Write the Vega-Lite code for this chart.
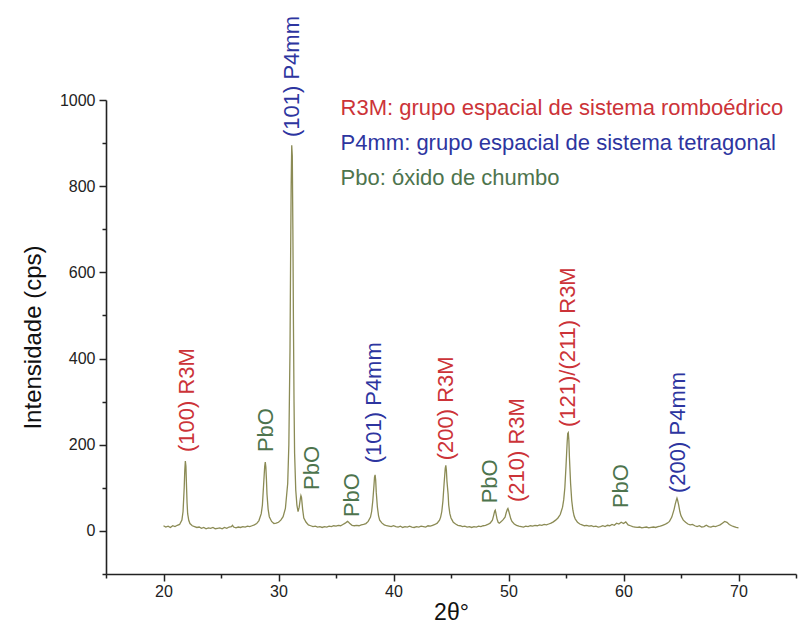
{
  "$schema": "https://vega.github.io/schema/vega-lite/v6.json",
  "width": 690,
  "height": 474,
  "autosize": {"type": "none"},
  "padding": {"left": 106, "top": 100, "right": 4, "bottom": 53},
  "background": "white",
  "view": {"stroke": null},
  "config": {"font": "Liberation Sans"},
  "datasets": {
    "trace": [
      {"t":20.0,"i":12},{"t":20.2,"i":9},{"t":20.4,"i":11},{"t":20.6,"i":8},{"t":20.8,"i":12},{"t":21.0,"i":10},{"t":21.2,"i":13},{"t":21.4,"i":15},{"t":21.6,"i":25},{"t":21.7,"i":45},{"t":21.8,"i":100},{"t":21.85,"i":140},{"t":21.9,"i":162},{"t":21.95,"i":150},{"t":22.0,"i":105},{"t":22.05,"i":65},{"t":22.1,"i":40},{"t":22.2,"i":24},{"t":22.3,"i":17},{"t":22.5,"i":12},{"t":22.7,"i":10},{"t":22.9,"i":8},{"t":23.1,"i":9},{"t":23.3,"i":6},{"t":23.5,"i":8},{"t":23.7,"i":5},{"t":23.9,"i":7},{"t":24.1,"i":6},{"t":24.3,"i":8},{"t":24.5,"i":5},{"t":24.7,"i":6},{"t":24.9,"i":7},{"t":25.1,"i":5},{"t":25.3,"i":8},{"t":25.5,"i":6},{"t":25.7,"i":9},{"t":25.9,"i":10},{"t":26.0,"i":13},{"t":26.1,"i":9},{"t":26.3,"i":7},{"t":26.5,"i":9},{"t":26.7,"i":8},{"t":26.9,"i":10},{"t":27.1,"i":9},{"t":27.3,"i":11},{"t":27.5,"i":10},{"t":27.7,"i":12},{"t":27.9,"i":14},{"t":28.1,"i":17},{"t":28.3,"i":24},{"t":28.5,"i":40},{"t":28.6,"i":60},{"t":28.7,"i":105},{"t":28.8,"i":150},{"t":28.85,"i":160},{"t":28.9,"i":148},{"t":28.95,"i":120},{"t":29.0,"i":85},{"t":29.1,"i":50},{"t":29.2,"i":33},{"t":29.4,"i":22},{"t":29.6,"i":17},{"t":29.8,"i":18},{"t":30.0,"i":20},{"t":30.2,"i":25},{"t":30.4,"i":33},{"t":30.6,"i":52},{"t":30.8,"i":110},{"t":30.9,"i":200},{"t":31.0,"i":420},{"t":31.05,"i":620},{"t":31.1,"i":800},{"t":31.15,"i":895},{"t":31.2,"i":870},{"t":31.25,"i":700},{"t":31.3,"i":480},{"t":31.35,"i":300},{"t":31.4,"i":180},{"t":31.5,"i":95},{"t":31.6,"i":60},{"t":31.7,"i":45},{"t":31.8,"i":55},{"t":31.9,"i":75},{"t":31.95,"i":82},{"t":32.0,"i":78},{"t":32.1,"i":50},{"t":32.2,"i":30},{"t":32.4,"i":20},{"t":32.6,"i":14},{"t":32.8,"i":12},{"t":33.0,"i":10},{"t":33.2,"i":11},{"t":33.4,"i":9},{"t":33.6,"i":10},{"t":33.8,"i":8},{"t":34.0,"i":10},{"t":34.2,"i":9},{"t":34.4,"i":11},{"t":34.6,"i":10},{"t":34.8,"i":12},{"t":35.0,"i":11},{"t":35.2,"i":13},{"t":35.4,"i":12},{"t":35.6,"i":15},{"t":35.8,"i":18},{"t":36.0,"i":22},{"t":36.1,"i":20},{"t":36.2,"i":17},{"t":36.4,"i":13},{"t":36.6,"i":12},{"t":36.8,"i":13},{"t":37.0,"i":12},{"t":37.2,"i":14},{"t":37.4,"i":15},{"t":37.6,"i":17},{"t":37.8,"i":22},{"t":38.0,"i":32},{"t":38.1,"i":45},{"t":38.2,"i":70},{"t":38.3,"i":105},{"t":38.35,"i":125},{"t":38.4,"i":130},{"t":38.45,"i":118},{"t":38.5,"i":90},{"t":38.6,"i":55},{"t":38.7,"i":35},{"t":38.8,"i":25},{"t":39.0,"i":18},{"t":39.2,"i":14},{"t":39.4,"i":12},{"t":39.6,"i":11},{"t":39.8,"i":10},{"t":40.0,"i":12},{"t":40.2,"i":10},{"t":40.4,"i":9},{"t":40.6,"i":11},{"t":40.8,"i":8},{"t":41.0,"i":10},{"t":41.2,"i":9},{"t":41.4,"i":11},{"t":41.6,"i":9},{"t":41.8,"i":8},{"t":42.0,"i":10},{"t":42.2,"i":9},{"t":42.4,"i":11},{"t":42.6,"i":10},{"t":42.8,"i":9},{"t":43.0,"i":12},{"t":43.2,"i":11},{"t":43.4,"i":13},{"t":43.6,"i":15},{"t":43.8,"i":18},{"t":44.0,"i":25},{"t":44.1,"i":32},{"t":44.2,"i":45},{"t":44.3,"i":70},{"t":44.4,"i":110},{"t":44.5,"i":145},{"t":44.55,"i":152},{"t":44.6,"i":140},{"t":44.65,"i":115},{"t":44.7,"i":100},{"t":44.75,"i":85},{"t":44.8,"i":60},{"t":44.9,"i":40},{"t":45.0,"i":30},{"t":45.1,"i":25},{"t":45.2,"i":20},{"t":45.4,"i":16},{"t":45.6,"i":13},{"t":45.8,"i":12},{"t":46.0,"i":10},{"t":46.2,"i":11},{"t":46.4,"i":9},{"t":46.6,"i":10},{"t":46.8,"i":8},{"t":47.0,"i":10},{"t":47.2,"i":9},{"t":47.4,"i":11},{"t":47.6,"i":10},{"t":47.8,"i":12},{"t":48.0,"i":13},{"t":48.2,"i":15},{"t":48.4,"i":18},{"t":48.6,"i":25},{"t":48.7,"i":35},{"t":48.8,"i":46},{"t":48.85,"i":48},{"t":48.9,"i":42},{"t":49.0,"i":28},{"t":49.1,"i":20},{"t":49.2,"i":18},{"t":49.3,"i":20},{"t":49.5,"i":25},{"t":49.7,"i":32},{"t":49.8,"i":42},{"t":49.9,"i":50},{"t":49.95,"i":52},{"t":50.0,"i":48},{"t":50.1,"i":38},{"t":50.2,"i":28},{"t":50.3,"i":22},{"t":50.5,"i":16},{"t":50.7,"i":13},{"t":50.9,"i":11},{"t":51.1,"i":10},{"t":51.3,"i":9},{"t":51.5,"i":11},{"t":51.7,"i":10},{"t":51.9,"i":12},{"t":52.1,"i":11},{"t":52.3,"i":13},{"t":52.5,"i":12},{"t":52.7,"i":14},{"t":52.9,"i":13},{"t":53.1,"i":15},{"t":53.3,"i":14},{"t":53.5,"i":16},{"t":53.7,"i":18},{"t":53.9,"i":21},{"t":54.1,"i":25},{"t":54.3,"i":30},{"t":54.5,"i":38},{"t":54.7,"i":55},{"t":54.8,"i":72},{"t":54.9,"i":100},{"t":55.0,"i":150},{"t":55.1,"i":205},{"t":55.15,"i":226},{"t":55.2,"i":228},{"t":55.25,"i":210},{"t":55.3,"i":170},{"t":55.4,"i":110},{"t":55.5,"i":70},{"t":55.6,"i":48},{"t":55.7,"i":35},{"t":55.8,"i":28},{"t":56.0,"i":20},{"t":56.2,"i":16},{"t":56.4,"i":14},{"t":56.6,"i":12},{"t":56.8,"i":13},{"t":57.0,"i":11},{"t":57.2,"i":12},{"t":57.4,"i":10},{"t":57.6,"i":11},{"t":57.8,"i":9},{"t":58.0,"i":10},{"t":58.2,"i":12},{"t":58.4,"i":10},{"t":58.6,"i":13},{"t":58.8,"i":12},{"t":59.0,"i":15},{"t":59.2,"i":13},{"t":59.4,"i":18},{"t":59.6,"i":16},{"t":59.8,"i":20},{"t":60.0,"i":17},{"t":60.2,"i":21},{"t":60.4,"i":14},{"t":60.6,"i":12},{"t":60.8,"i":10},{"t":61.0,"i":9},{"t":61.2,"i":8},{"t":61.4,"i":9},{"t":61.6,"i":7},{"t":61.8,"i":8},{"t":62.0,"i":9},{"t":62.2,"i":7},{"t":62.4,"i":8},{"t":62.6,"i":9},{"t":62.8,"i":8},{"t":63.0,"i":10},{"t":63.2,"i":11},{"t":63.4,"i":13},{"t":63.6,"i":15},{"t":63.8,"i":18},{"t":64.0,"i":22},{"t":64.2,"i":32},{"t":64.4,"i":50},{"t":64.5,"i":62},{"t":64.6,"i":72},{"t":64.65,"i":76},{"t":64.7,"i":72},{"t":64.8,"i":60},{"t":64.9,"i":45},{"t":65.0,"i":35},{"t":65.2,"i":25},{"t":65.4,"i":20},{"t":65.6,"i":16},{"t":65.8,"i":14},{"t":66.0,"i":15},{"t":66.2,"i":12},{"t":66.4,"i":10},{"t":66.6,"i":12},{"t":66.8,"i":9},{"t":67.0,"i":10},{"t":67.2,"i":13},{"t":67.4,"i":10},{"t":67.6,"i":9},{"t":67.8,"i":11},{"t":68.0,"i":10},{"t":68.2,"i":12},{"t":68.4,"i":14},{"t":68.6,"i":18},{"t":68.8,"i":22},{"t":69.0,"i":20},{"t":69.2,"i":15},{"t":69.4,"i":12},{"t":69.6,"i":10},{"t":69.8,"i":8},{"t":70.0,"i":7}
    ],
    "peaks": [
      {"t":22.0,"i":183,"label":"(100) R3M","phase":"R3M"},
      {"t":28.9,"i":183,"label":"PbO","phase":"PbO"},
      {"t":31.2,"i":914,"label":"(101) P4mm","phase":"P4mm"},
      {"t":32.9,"i":95,"label":"PbO","phase":"PbO"},
      {"t":36.4,"i":32,"label":"PbO","phase":"PbO"},
      {"t":38.3,"i":157,"label":"(101) P4mm","phase":"P4mm"},
      {"t":44.6,"i":164,"label":"(200) R3M","phase":"R3M"},
      {"t":48.4,"i":64,"label":"PbO","phase":"PbO"},
      {"t":50.7,"i":67,"label":"(210) R3M","phase":"R3M"},
      {"t":55.2,"i":241,"label":"(121)/(211) R3M","phase":"R3M"},
      {"t":59.8,"i":53,"label":"PbO","phase":"PbO"},
      {"t":64.7,"i":88,"label":"(200) P4mm","phase":"P4mm"}
    ],
    "key": [
      {"t":35.4,"i":981,"label":"R3M: grupo espacial de sistema romboédrico","phase":"R3M"},
      {"t":35.4,"i":900,"label":"P4mm: grupo espacial de sistema tetragonal","phase":"P4mm"},
      {"t":35.4,"i":819,"label":"Pbo: óxido de chumbo","phase":"PbO"}
    ]
  },
  "encoding": {
    "x": {
      "field": "t", "type": "quantitative",
      "scale": {"domain": [15, 75], "nice": false, "zero": false},
      "axis": {
        "title": "2θ°", "titleFontSize": 23, "titleFontWeight": "normal", "titleColor": "#111", "titlePadding": 2,
        "values": [15,20,25,30,35,40,45,50,55,60,65,70,75],
        "labelExpr": "datum.value % 10 === 0 ? datum.label : ''",
        "labelFontSize": 16, "labelColor": "#222", "labelPadding": 2, "labelFlush": false, "labelOverlap": false,
        "tickSize": {"condition": {"test": "datum.value % 10 === 0", "value": 7}, "value": 4},
        "tickColor": "#222", "tickWidth": 1.5, "domainColor": "#222", "domainWidth": 1.6, "grid": false
      }
    },
    "y": {
      "field": "i", "type": "quantitative",
      "scale": {"domain": [-100, 1000], "nice": false, "zero": false},
      "axis": {
        "title": "Intensidade (cps)", "titleFontSize": 24, "titleFontWeight": "normal", "titleColor": "#111", "titlePadding": 14,
        "values": [-100,0,100,200,300,400,500,600,700,800,900,1000],
        "format": "d",
        "labelExpr": "datum.value % 200 === 0 ? datum.label : ''",
        "labelFontSize": 16, "labelColor": "#222", "labelPadding": 4, "labelOverlap": false, "labelFlush": false,
        "tickSize": {"condition": {"test": "datum.value % 200 === 0", "value": 7}, "value": 4},
        "tickColor": "#222", "tickWidth": 1.5, "domainColor": "#222", "domainWidth": 1.6, "grid": false
      }
    }
  },
  "layer": [
    {
      "data": {"name": "trace"},
      "mark": {"type": "line", "color": "#8b8b55", "strokeWidth": 1.3, "interpolate": "linear"}
    },
    {
      "data": {"name": "peaks"},
      "mark": {"type": "text", "angle": 270, "align": "left", "baseline": "middle", "fontSize": 22, "font": "Liberation Sans"},
      "encoding": {
        "text": {"field": "label"},
        "color": {"field": "phase", "type": "nominal", "scale": {"domain": ["R3M", "P4mm", "PbO"], "range": ["#cc3338", "#2d35a0", "#4d744d"]}, "legend": null}
      }
    },
    {
      "data": {"name": "key"},
      "mark": {"type": "text", "align": "left", "baseline": "middle", "fontSize": 22, "font": "Liberation Sans"},
      "encoding": {
        "text": {"field": "label"},
        "color": {"field": "phase", "type": "nominal", "legend": null}
      }
    }
  ]
}
